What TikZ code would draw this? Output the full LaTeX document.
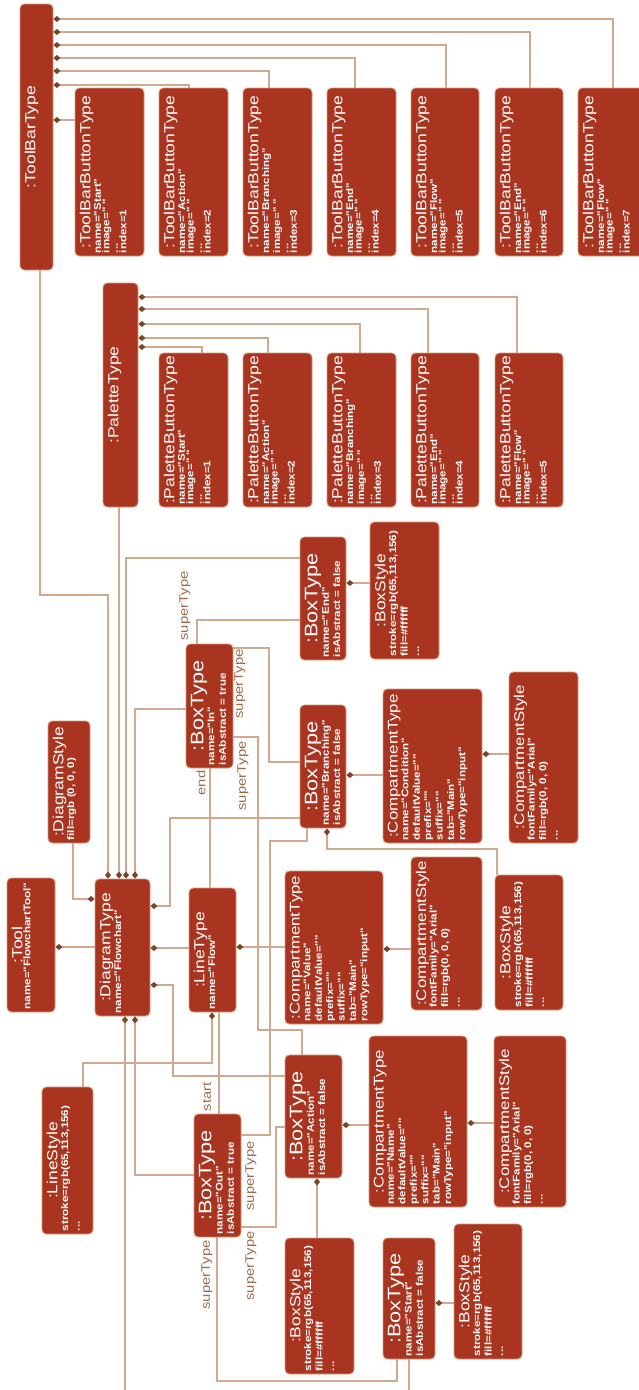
\documentclass[tikz,border=0pt]{standalone}
\usepackage{fontspec}
\setmainfont{Liberation Sans}
\newfontfamily\objfont[FakeStretch=1.2]{Liberation Sans}
\usepackage{tikz}
\usetikzlibrary{arrows.meta,calc,fit}
\definecolor{objred}{HTML}{A93520}
\definecolor{objedge}{HTML}{D49A7C}
\definecolor{linktan}{HTML}{CFAA90}
\definecolor{diamondbrown}{HTML}{7A4526}
\definecolor{rolebrown}{HTML}{9C6B4C}

% object box: [attr style]{name}{corner}{corner}{title style}{title}{attributes}
\newcommand{\objnode}[7][attr]{%
  \node[obj, fit={(#3) (#4)}] (#2) {};
  \node[#5, anchor=north] (#2-t) at ($(#2.west)+(5,0)$) {#6};
  \node[#1, anchor=north west] (#2-a) at ($(#2-t.south |- #2.south)+(0,-3)$) {#7};
}

\begin{document}
\begin{tikzpicture}[x=0.02cm, y=-0.02cm,
    obj/.style={draw=objedge, fill=objred, rounded corners=2.5pt, line width=0.5pt, inner sep=0pt},
    ttl/.style={rotate=90, inner sep=0pt, text=white, font=\objfont\fontsize{8.3}{10}\selectfont},
    cmpttl/.style={ttl, font=\objfont\fontsize{8}{10}\selectfont},
    boxttl/.style={ttl, font=\objfont\fontsize{10.3}{12}\selectfont},
    attr/.style={rotate=90, inner sep=0pt, text=white, align=left, font=\objfont\fontsize{5.5}{6.5}\selectfont\bfseries},
    btnattr/.style={attr, font=\objfont\fontsize{5.5}{4.8}\selectfont\bfseries},
    link/.style={draw=linktan, line width=0.6pt},
    comp/.style={link, {Diamond[length=4pt, width=3.4pt, color=diamondbrown]}-},
    role/.style={rotate=90, inner sep=0pt, text=rolebrown, font=\objfont\fontsize{7}{8}\selectfont}
]
    \useasboundingbox (0,0) rectangle (639,1390);
    \fill[white] (0,0) rectangle (639,1390);
    \clip (0,0) rectangle (639,1390);

    % Toolbar
    \node[obj, fit={(20,4) (53,270)}] (tbt) {};
    \node[ttl, anchor=north] (tbt-t) at ($(tbt.west)+(5,0)$) {:ToolBarType};
    \objnode[btnattr]{tb1}{75,88}{144,256}{ttl}{:ToolBarButtonType}{name="Start"\\image=" "\\...\\index=1}
    \objnode[btnattr]{tb2}{159,88}{228,256}{ttl}{:ToolBarButtonType}{name="Action"\\image=" "\\...\\index=2}
    \objnode[btnattr]{tb3}{243,88}{312,256}{ttl}{:ToolBarButtonType}{name="Branching"\\image=" "\\...\\index=3}
    \objnode[btnattr]{tb4}{327,88}{396,256}{ttl}{:ToolBarButtonType}{name="End"\\image=" "\\...\\index=4}
    \objnode[btnattr]{tb5}{411,88}{479,256}{ttl}{:ToolBarButtonType}{name="Flow"\\image=" "\\...\\index=5}
    \objnode[btnattr]{tb6}{495,88}{563,256}{ttl}{:ToolBarButtonType}{name="End"\\image=" "\\...\\index=6}
    \objnode[btnattr]{tb7}{578,88}{647,256}{ttl}{:ToolBarButtonType}{name="Flow"\\image=" "\\...\\index=7}

    % Palette
    \node[obj, fit={(103,283) (138,507)}] (pt) {};
    \node[ttl, anchor=north] (pt-t) at ($(pt.west)+(5,0)$) {:PaletteType};
    \objnode[btnattr]{pb1}{159,353}{228,507}{ttl}{:PaletteButtonType}{name="Start"\\image=" "\\...\\index=1}
    \objnode[btnattr]{pb2}{243,353}{312,507}{ttl}{:PaletteButtonType}{name="Action"\\image=" "\\...\\index=2}
    \objnode[btnattr]{pb3}{327,353}{396,507}{ttl}{:PaletteButtonType}{name="Branching"\\image=" "\\...\\index=3}
    \objnode[btnattr]{pb4}{411,353}{479,507}{ttl}{:PaletteButtonType}{name="End"\\image=" "\\...\\index=4}
    \objnode[btnattr]{pb5}{495,353}{563,507}{ttl}{:PaletteButtonType}{name="Flow"\\image=" "\\...\\index=5}

    % Diagram, tool, line
    \objnode{dstyle}{48,721}{90,843}{ttl}{:DiagramStyle}{fill=rgb (0, 0, 0)}
    \objnode{tool}{7,878}{55,1012}{ttl}{:Tool}{name="FlowchartTool"}
    \objnode{dt}{95,879}{150,1016}{ttl}{:DiagramType}{name="Flowchart"}
    \objnode{lt}{189,888}{236,1012}{ttl}{:LineType}{name="Flow"}
    \objnode{lstyle}{42,1087}{93,1234}{ttl}{:LineStyle}{stroke=rgb(65,113,156)\\...}
    \objnode{ctval}{285,871}{383,1024}{cmpttl}{:CompartmentType}{name="Value"\\defaultValue=""\\prefix=""\\suffix=""\\tab="Main"\\rowType="input"}
    \objnode{csval}{411,857}{482,1010}{cmpttl}{:CompartmentStyle}{fontFamily="Arial"\\fill=rgb(0, 0, 0)\\...}

    % Box types
    \objnode{btend}{300,537}{346,660}{boxttl}{:BoxType}{name="End"\\isAbstract = false}
    \objnode{bsend}{370,522}{439,659}{ttl}{:BoxStyle}{stroke=rgb(65,113,156)\\fill=\#ffffff\\...}
    \objnode{btin}{186,644}{233,768}{boxttl}{:BoxType}{name="In"\\isAbstract = true}
    \objnode{btbr}{300,705}{346,828}{boxttl}{:BoxType}{name="Branching"\\isAbstract = false}
    \objnode{ctcond}{383,689}{482,843}{cmpttl}{:CompartmentType}{name="Condition"\\defaultValue=""\\prefix=""\\suffix=""\\tab="Main"\\rowType="input"}
    \objnode{cscond}{509,672}{578,843}{cmpttl}{:CompartmentStyle}{fontFamily="Arial"\\fill=rgb(0, 0, 0)\\...}
    \objnode{bsbr}{495,875}{563,1010}{ttl}{:BoxStyle}{stroke=rgb(65,113,156)\\fill=\#ffffff\\...}
    \objnode{btact}{285,1055}{342,1178}{boxttl}{:BoxType}{name="Action"\\isAbstract = false}
    \objnode{ctname}{369,1036}{467,1207}{cmpttl}{:CompartmentType}{name="Name"\\defaultValue=""\\prefix=""\\suffix=""\\tab="Main"\\rowType="input"}
    \objnode{csname}{494,1036}{566,1207}{cmpttl}{:CompartmentStyle}{fontFamily="Arial"\\fill=rgb(0, 0, 0)\\...}
    \objnode{bsact}{285,1238}{354,1374}{ttl}{:BoxStyle}{stroke=rgb(65,113,156)\\fill=\#ffffff\\...}
    \objnode{btout}{194,1114}{241,1237}{boxttl}{:BoxType}{name="Out"\\isAbstract = true}
    \objnode{btstart}{383,1238}{435,1359}{boxttl}{:BoxType}{name="Start"\\isAbstract = false}
    \objnode{bsstart}{454,1224}{522,1359}{ttl}{:BoxStyle}{stroke=rgb(65,113,156)\\fill=\#ffffff\\...}

    % Toolbar buttons
    \draw[comp] (tbt.east |- 0,120) -- (tb1.west |- 0,120);
    \draw[comp] (tbt.east |- 0,85) -| (tb2.north -| 189,0);
    \draw[comp] (tbt.east |- 0,71) -| (tb3.north -| 269,0);
    \draw[comp] (tbt.east |- 0,58) -| (tb4.north -| 355,0);
    \draw[comp] (tbt.east |- 0,45) -| (tb5.north -| 446,0);
    \draw[comp] (tbt.east |- 0,32) -| (tb6.north -| 530,0);
    \draw[comp] (tbt.east |- 0,19) -| (tb7.north -| 613,0);

    % Palette buttons
    \draw[comp] (pt.east |- 0,347) -| (pb1.north -| 202,0);
    \draw[comp] (pt.east |- 0,338) -| (pb2.north -| 268,0);
    \draw[comp] (pt.east |- 0,324) -| (pb3.north -| 360,0);
    \draw[comp] (pt.east |- 0,309) -| (pb4.north -| 428,0);
    \draw[comp] (pt.east |- 0,297) -| (pb5.north -| 517,0);

    % DiagramType parts
    \draw[comp] (dt.north -| 108,0) |- (40,595) -- (tbt.south -| 40,0);
    \draw[comp] (dt.north -| 119,0) -- (pt.south -| 119,0);
    \draw[comp] (dt.north -| 126,0) |- (btend.west |- 0,558);
    \draw[comp] (dt.north -| 135,0) |- (btin.west |- 0,709);
    \draw[comp] (dt.west |- 0,899) -| (dstyle.south -| 73,0);
    \draw[comp] (tool.east |- 0,947) -- (dt.west |- 0,947);
    \draw[comp] (dt.east |- 0,906) -| (170,818) -- (btbr.west |- 0,818);
    \draw[comp] (dt.east |- 0,948) -- (lt.west |- 0,948);
    \draw[comp] (dt.east |- 0,985) -| (173,1076) -- (btact.west |- 0,1076);
    \draw[comp] (dt.south -| 125,0) -- (125,1400) -| (btstart.south -| 409,0);
    \draw[comp] (dt.south -| 135,0) |- (btout.west |- 0,1175);

    % LineType parts
    \draw[comp] (lt.south -| 212,0) |- (83,1063) -- (lstyle.north -| 83,0);
    \draw[comp] (lt.east |- 0,947) -- (ctval.west |- 0,947);
    \draw[comp] (ctval.east |- 0,949) -- (csval.west |- 0,949);

    % BoxType parts
    \draw[comp] (btend.east |- 0,583) -- (bsend.west |- 0,583);
    \draw[comp] (btbr.east |- 0,775) -- (ctcond.west |- 0,775);
    \draw[comp] (ctcond.east |- 0,754) -- (cscond.west |- 0,754);
    \draw[comp] (btbr.south -| 327,0) |- (497,849) -- (bsbr.north -| 497,0);
    \draw[comp] (btact.east |- 0,1125) -- (ctname.west |- 0,1125);
    \draw[comp] (ctname.east |- 0,1123) -- (csname.west |- 0,1123);
    \draw[comp] (btact.south -| 317,0) -- (bsact.north -| 317,0);
    \draw[comp] (btstart.east |- 0,1303) -- (bsstart.west |- 0,1303);

    % end / start
    \draw[link] (lt.north -| 210,0) -- (btin.south -| 210,0);
    \draw[link] (lt.south -| 219,0) -- (btout.north -| 219,0);
    \node[role] (r-end) at (201,783) {end};
    \node[role] (r-start) at (207,1097) {start};

    % superType
    \draw[link] (btend.west |- 0,620) -| (btin.north -| 197,0);
    \draw[link] (btbr.west |- 0,762) -| (269,648) -- (btin.east |- 0,648);
    \draw[link] (btact.north -| 302,0) |- (258,1030) |- (btin.east |- 0,737);
    \draw[link] (btbr.south -| 307,0) |- (270,841) |- (btout.east |- 0,1135);
    \draw[link] (btact.west |- 0,1127) -| (276,1227) -- (btout.east |- 0,1227);
    \draw[link] (btstart.south -| 397,0) |- (217,1381) -- (btout.south -| 217,0);
    \node[role] (r-in1) at (185,606) {superType};
    \node[role] (r-in2) at (240,684) {superType};
    \node[role] (r-in3) at (243,776) {superType};
    \node[role] (r-out1) at (251,1176) {superType};
    \node[role] (r-out2) at (251,1266) {superType};
    \node[role] (r-out3) at (207,1275) {superType};

\end{tikzpicture}
\end{document}
